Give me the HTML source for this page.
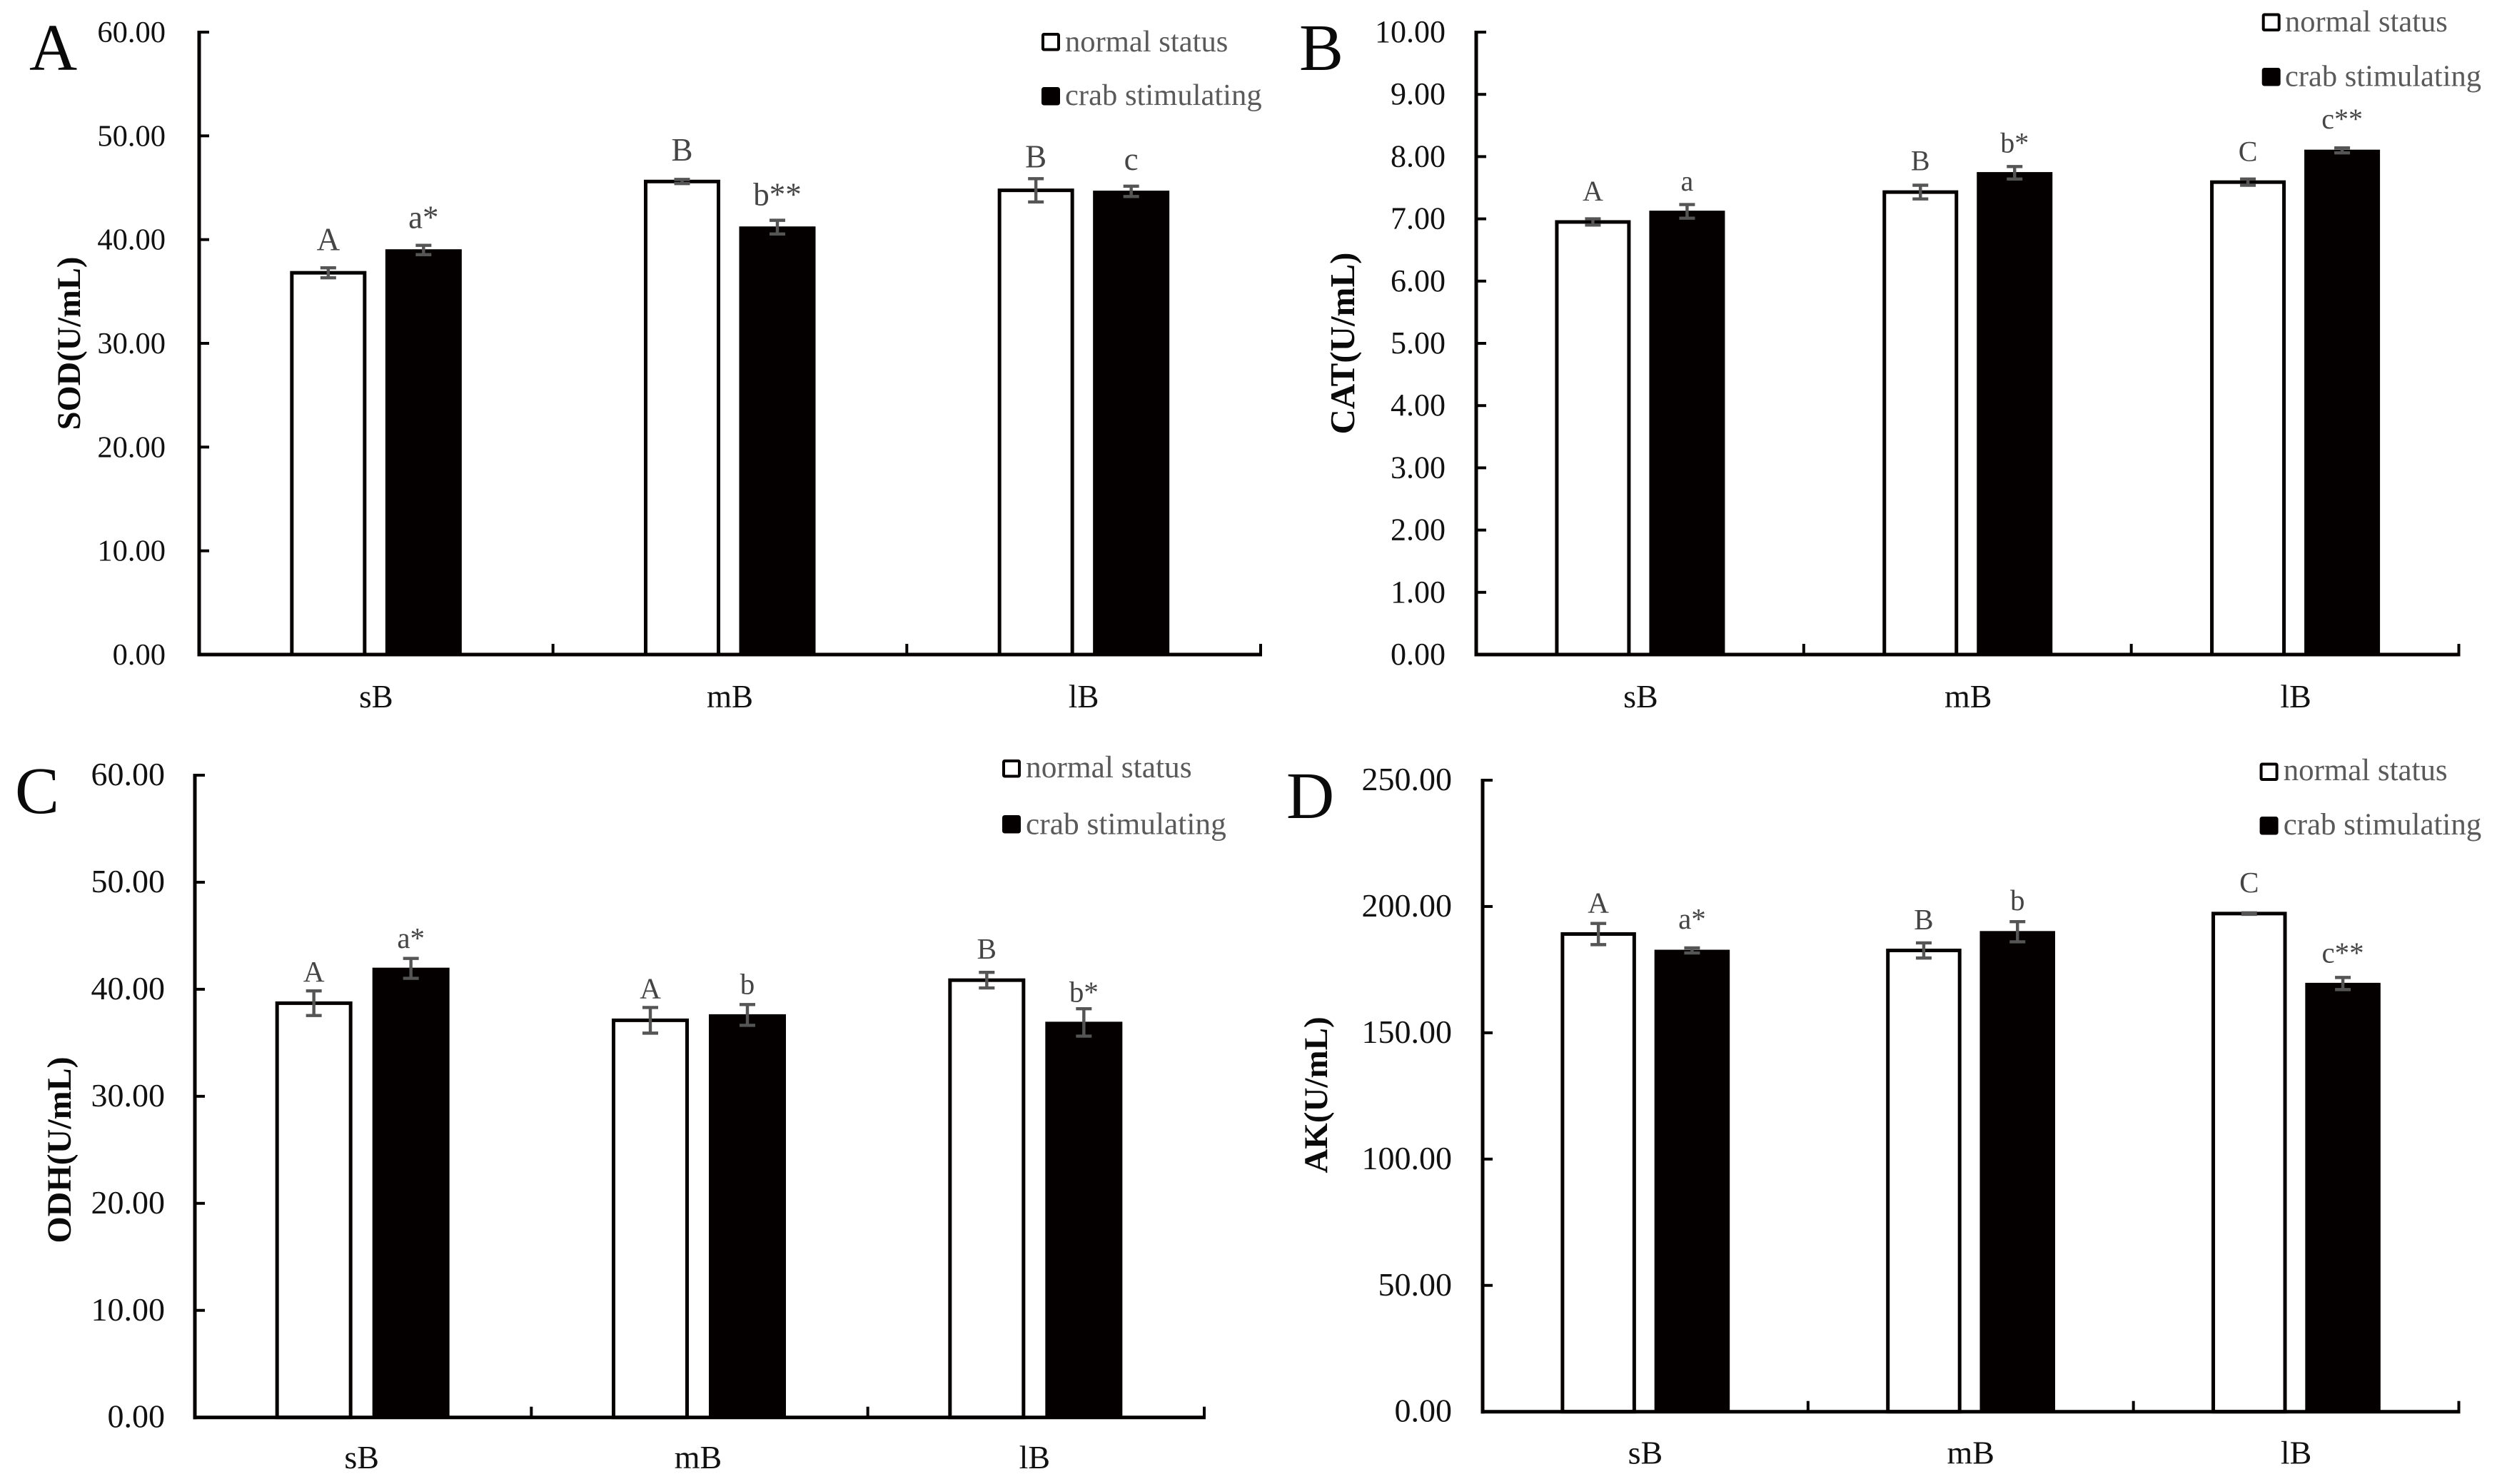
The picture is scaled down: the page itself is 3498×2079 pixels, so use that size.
<!DOCTYPE html>
<html lang="en">
<head>
<meta charset="utf-8">
<title>Enzyme activity bar charts</title>
<style>
html,body{margin:0;padding:0;background:#fff;width:3498px;height:2079px;overflow:hidden}
svg{display:block}
text{font-family:"Liberation Serif","Times New Roman",serif}
</style>
</head>
<body>
<svg id="figure" xmlns="http://www.w3.org/2000/svg" width="3498" height="2079" viewBox="0 0 3498 2079"></svg>
<script>
const categories = ['sB', 'mB', 'lB'];
const seriesNames = ['normal status', 'crab stimulating'];

const sodTicks = ['0.00', '10.00', '20.00', '30.00', '40.00', '50.00', '60.00'];
const sodNormal = [36.8, 45.6, 44.75];
const sodCrab = [39.0, 41.2, 44.65];
const sodNormalErr = [0.48, 0.2, 1.12];
const sodCrabErr = [0.45, 0.66, 0.5];
const sodNormalSig = ['A', 'B', 'B'];
const sodCrabSig = ['a*', 'b**', 'c'];

const catTicks = ['0.00', '1.00', '2.00', '3.00', '4.00', '5.00', '6.00', '7.00', '8.00', '9.00', '10.00'];
const catNormal = [6.95, 7.43, 7.59];
const catCrab = [7.12, 7.74, 8.1];
const catNormalErr = [0.05, 0.11, 0.05];
const catCrabErr = [0.11, 0.1, 0.04];
const catNormalSig = ['A', 'B', 'C'];
const catCrabSig = ['a', 'b*', 'c**'];

const odhTicks = ['0.00', '10.00', '20.00', '30.00', '40.00', '50.00', '60.00'];
const odhNormal = [38.7, 37.1, 40.85];
const odhCrab = [41.95, 37.6, 36.9];
const odhNormalErr = [1.15, 1.2, 0.73];
const odhCrabErr = [0.93, 0.97, 1.28];
const odhNormalSig = ['A', 'A', 'B'];
const odhCrabSig = ['a*', 'b', 'b*'];

const akTicks = ['0.00', '50.00', '100.00', '150.00', '200.00', '250.00'];
const akNormal = [189.1, 182.6, 197.2];
const akCrab = [182.6, 190, 169.5];
const akNormalErr = [4.2, 3, 0.3];
const akCrabErr = [1, 4, 2.4];
const akNormalSig = ['A', 'B', 'C'];
const akCrabSig = ['a*', 'b', 'c**'];

const panels = [
  {key:'sod', letter:'A', title:'SOD(U/mL)', ticks:sodTicks, normal:sodNormal, crab:sodCrab, normalErr:sodNormalErr, crabErr:sodCrabErr, normalSig:sodNormalSig, crabSig:sodCrabSig,
   layout:{x0:279, x1:1766, top:45, base:917, barW:107, offN:-67, offC:66.5, tickFont:42.5, tickRight:232, sigFont:45, liftN:[24.5,26.5,16], liftC:[24,21,23], catFont:45, catY:991, catDx:0,
     letterX:41, letterY:98, titleX:112, titleY:481, titleFont:46.5,
     legX:1459, legY:[46,122], legTextX:1492, legBase:[72,147], legFont:42.6}},
  {key:'cat', letter:'B', title:'CAT(U/mL)', ticks:catTicks, normal:catNormal, crab:catCrab, normalErr:catNormalErr, crabErr:catCrabErr, normalSig:catNormalSig, crabSig:catCrabSig,
   layout:{x0:2068, x1:3444.5, top:45, base:917, barW:106, offN:-66, offC:66, tickFont:44, tickRight:2025, sigFont:40, liftN:[25.5,21,25.5], liftC:[19.5,20,27], catFont:46, catY:991, catDx:1,
     letterX:1820, letterY:98, titleX:1897, titleY:481, titleFont:49,
     legX:3168.7, legY:[18.5,95], legTextX:3201, legBase:[44,120.7], legFont:42.5}},
  {key:'odh', letter:'C', title:'ODH(U/mL)', ticks:odhTicks, normal:odhNormal, crab:odhCrab, normalErr:odhNormalErr, crabErr:odhCrabErr, normalSig:odhNormalSig, crabSig:odhCrabSig,
   layout:{x0:273, x1:1687, top:1086, base:1985.7, barW:108, offN:-69, offC:67, tickFont:46, tickRight:231, sigFont:41, liftN:[13.3,13,19], liftC:[14.8,15,9.5], catFont:46, catY:2057, catDx:-2,
     letterX:21, letterY:1139, titleX:99, titleY:1611, titleFont:48,
     legX:1404, legY:[1064,1142], legTextX:1437, legBase:[1089,1168.5], legFont:43.4}},
  {key:'ak', letter:'D', title:'AK(U/mL)', ticks:akTicks, normal:akNormal, crab:akCrab, normalErr:akNormalErr, crabErr:akCrabErr, normalSig:akNormalSig, crabSig:akCrabSig,
   layout:{x0:2077, x1:3444.5, top:1093, base:1977.7, barW:105.5, offN:-65.8, offC:65.5, tickFont:46, tickRight:2034, sigFont:41, liftN:[15,19,28.7], liftC:[27,16,21], catFont:46, catY:2050.6, catDx:0,
     letterX:1802, letterY:1146, titleX:1859, titleY:1534, titleFont:47,
     legX:3165.6, legY:[1068.5,1144], legTextX:3198.7, legBase:[1093,1169], legFont:42.9}}
];

const NS = 'http://www.w3.org/2000/svg';
const BLACK = '#050000';
const GREY = '#555555';
const figure = document.getElementById('figure');

function make(tag, attrs, parent, content) {
  const node = document.createElementNS(NS, tag);
  for (const k in attrs) node.setAttribute(k, attrs[k]);
  if (content !== undefined) node.textContent = content;
  parent.appendChild(node);
  return node;
}

panels.forEach(function (p) {
  const L = p.layout;
  const maxVal = parseFloat(p.ticks[p.ticks.length - 1]);
  const yScale = function (v) { return L.base - (v / maxVal) * (L.base - L.top); };
  const catW = (L.x1 - L.x0) / categories.length;
  const xCenter = function (i) { return L.x0 + catW * (i + 0.5); };

  const g = make('g', {}, figure);
  
  

  const letter = make('text', {x: L.letterX, y: L.letterY, 'font-size': 93, fill: '#0a0a0a'}, g, p.letter);
  
  

  const title = make('text', {x: 0, y: 0, 'font-size': L.titleFont, 'font-weight': 'bold', fill: '#0a0a0a', 'text-anchor': 'middle', transform: 'translate(' + L.titleX + ',' + L.titleY + ') rotate(-90)'}, g, p.title);
  
  

  categories.forEach(function (cat, i) {
    const cx = xCenter(i);
    const nx = cx + L.offN;
    const bx = cx + L.offC;
    const nTop = yScale(p.normal[i]);
    const cTop = yScale(p.crab[i]);

    const whiteBar = make('rect', {x: nx - L.barW / 2 + 2.5, y: nTop, width: L.barW - 5, height: L.base - nTop, fill: '#ffffff', stroke: BLACK, 'stroke-width': 5}, g);
    
    

    const blackBar = make('rect', {x: bx - L.barW / 2, y: cTop - 1, width: L.barW, height: L.base - cTop + 1, fill: BLACK}, g);
    
    
  });

  const yAxis = make('line', {x1: L.x0, x2: L.x0, y1: L.top - 2, y2: L.base + 2.5, stroke: BLACK, 'stroke-width': 5}, g);
  
  

  const xAxis = make('line', {x1: L.x0 - 2.5, x2: L.x1 + 2, y1: L.base, y2: L.base, stroke: BLACK, 'stroke-width': 5}, g);
  
  

  p.ticks.forEach(function (label) {
    const y = yScale(parseFloat(label));
    const mark = make('line', {x1: L.x0, x2: L.x0 + 14, y1: y, y2: y, stroke: BLACK, 'stroke-width': 4}, g);
    
    

    const text = make('text', {x: L.tickRight, y: y + 14, 'font-size': L.tickFont, 'text-anchor': 'end', fill: '#111111'}, g, label);
    
    
  });

  categories.forEach(function (cat, i) {
    const tickX = L.x0 + catW * (i + 1);
    const mark = make('line', {x1: tickX, x2: tickX, y1: L.base, y2: L.base - 15, stroke: BLACK, 'stroke-width': 4}, g);
    
    

    const text = make('text', {x: xCenter(i) + L.catDx, y: L.catY, 'font-size': L.catFont, 'text-anchor': 'middle', fill: '#111111'}, g, cat);
    
    
  });

  const series = [
    {id: 'normal', off: L.offN, vals: p.normal, errs: p.normalErr, sigs: p.normalSig, lifts: L.liftN},
    {id: 'crab', off: L.offC, vals: p.crab, errs: p.crabErr, sigs: p.crabSig, lifts: L.liftC}
  ];
  series.forEach(function (s) {
    categories.forEach(function (cat, i) {
      const x = xCenter(i) + s.off;
      const hi = yScale(s.vals[i] + s.errs[i]);
      const lo = yScale(s.vals[i] - s.errs[i]);
      const d = 'M' + (x - 11) + ' ' + hi + 'H' + (x + 11) + 'M' + x + ' ' + hi + 'V' + lo + 'M' + (x - 11) + ' ' + lo + 'H' + (x + 11);

      const err = make('path', {d: d, fill: 'none', stroke: GREY, 'stroke-width': 4.4}, g);
      
      

      const sig = make('text', {x: x, y: hi - s.lifts[i], 'font-size': L.sigFont, 'text-anchor': 'middle', fill: '#454545'}, g, s.sigs[i]);
      
      
    });
  });

  seriesNames.forEach(function (name, i) {
    const swatch = make('rect', {x: L.legX + 2, y: L.legY[i] + 2, width: 22, height: 21.5, rx: 1.5, fill: i === 0 ? '#ffffff' : BLACK, stroke: BLACK, 'stroke-width': 4}, g);
    
    

    const text = make('text', {x: L.legTextX, y: L.legBase[i], 'font-size': L.legFont, fill: '#5a5a5a'}, g, name);
    
    
  });
});
</script>
</body>
</html>
